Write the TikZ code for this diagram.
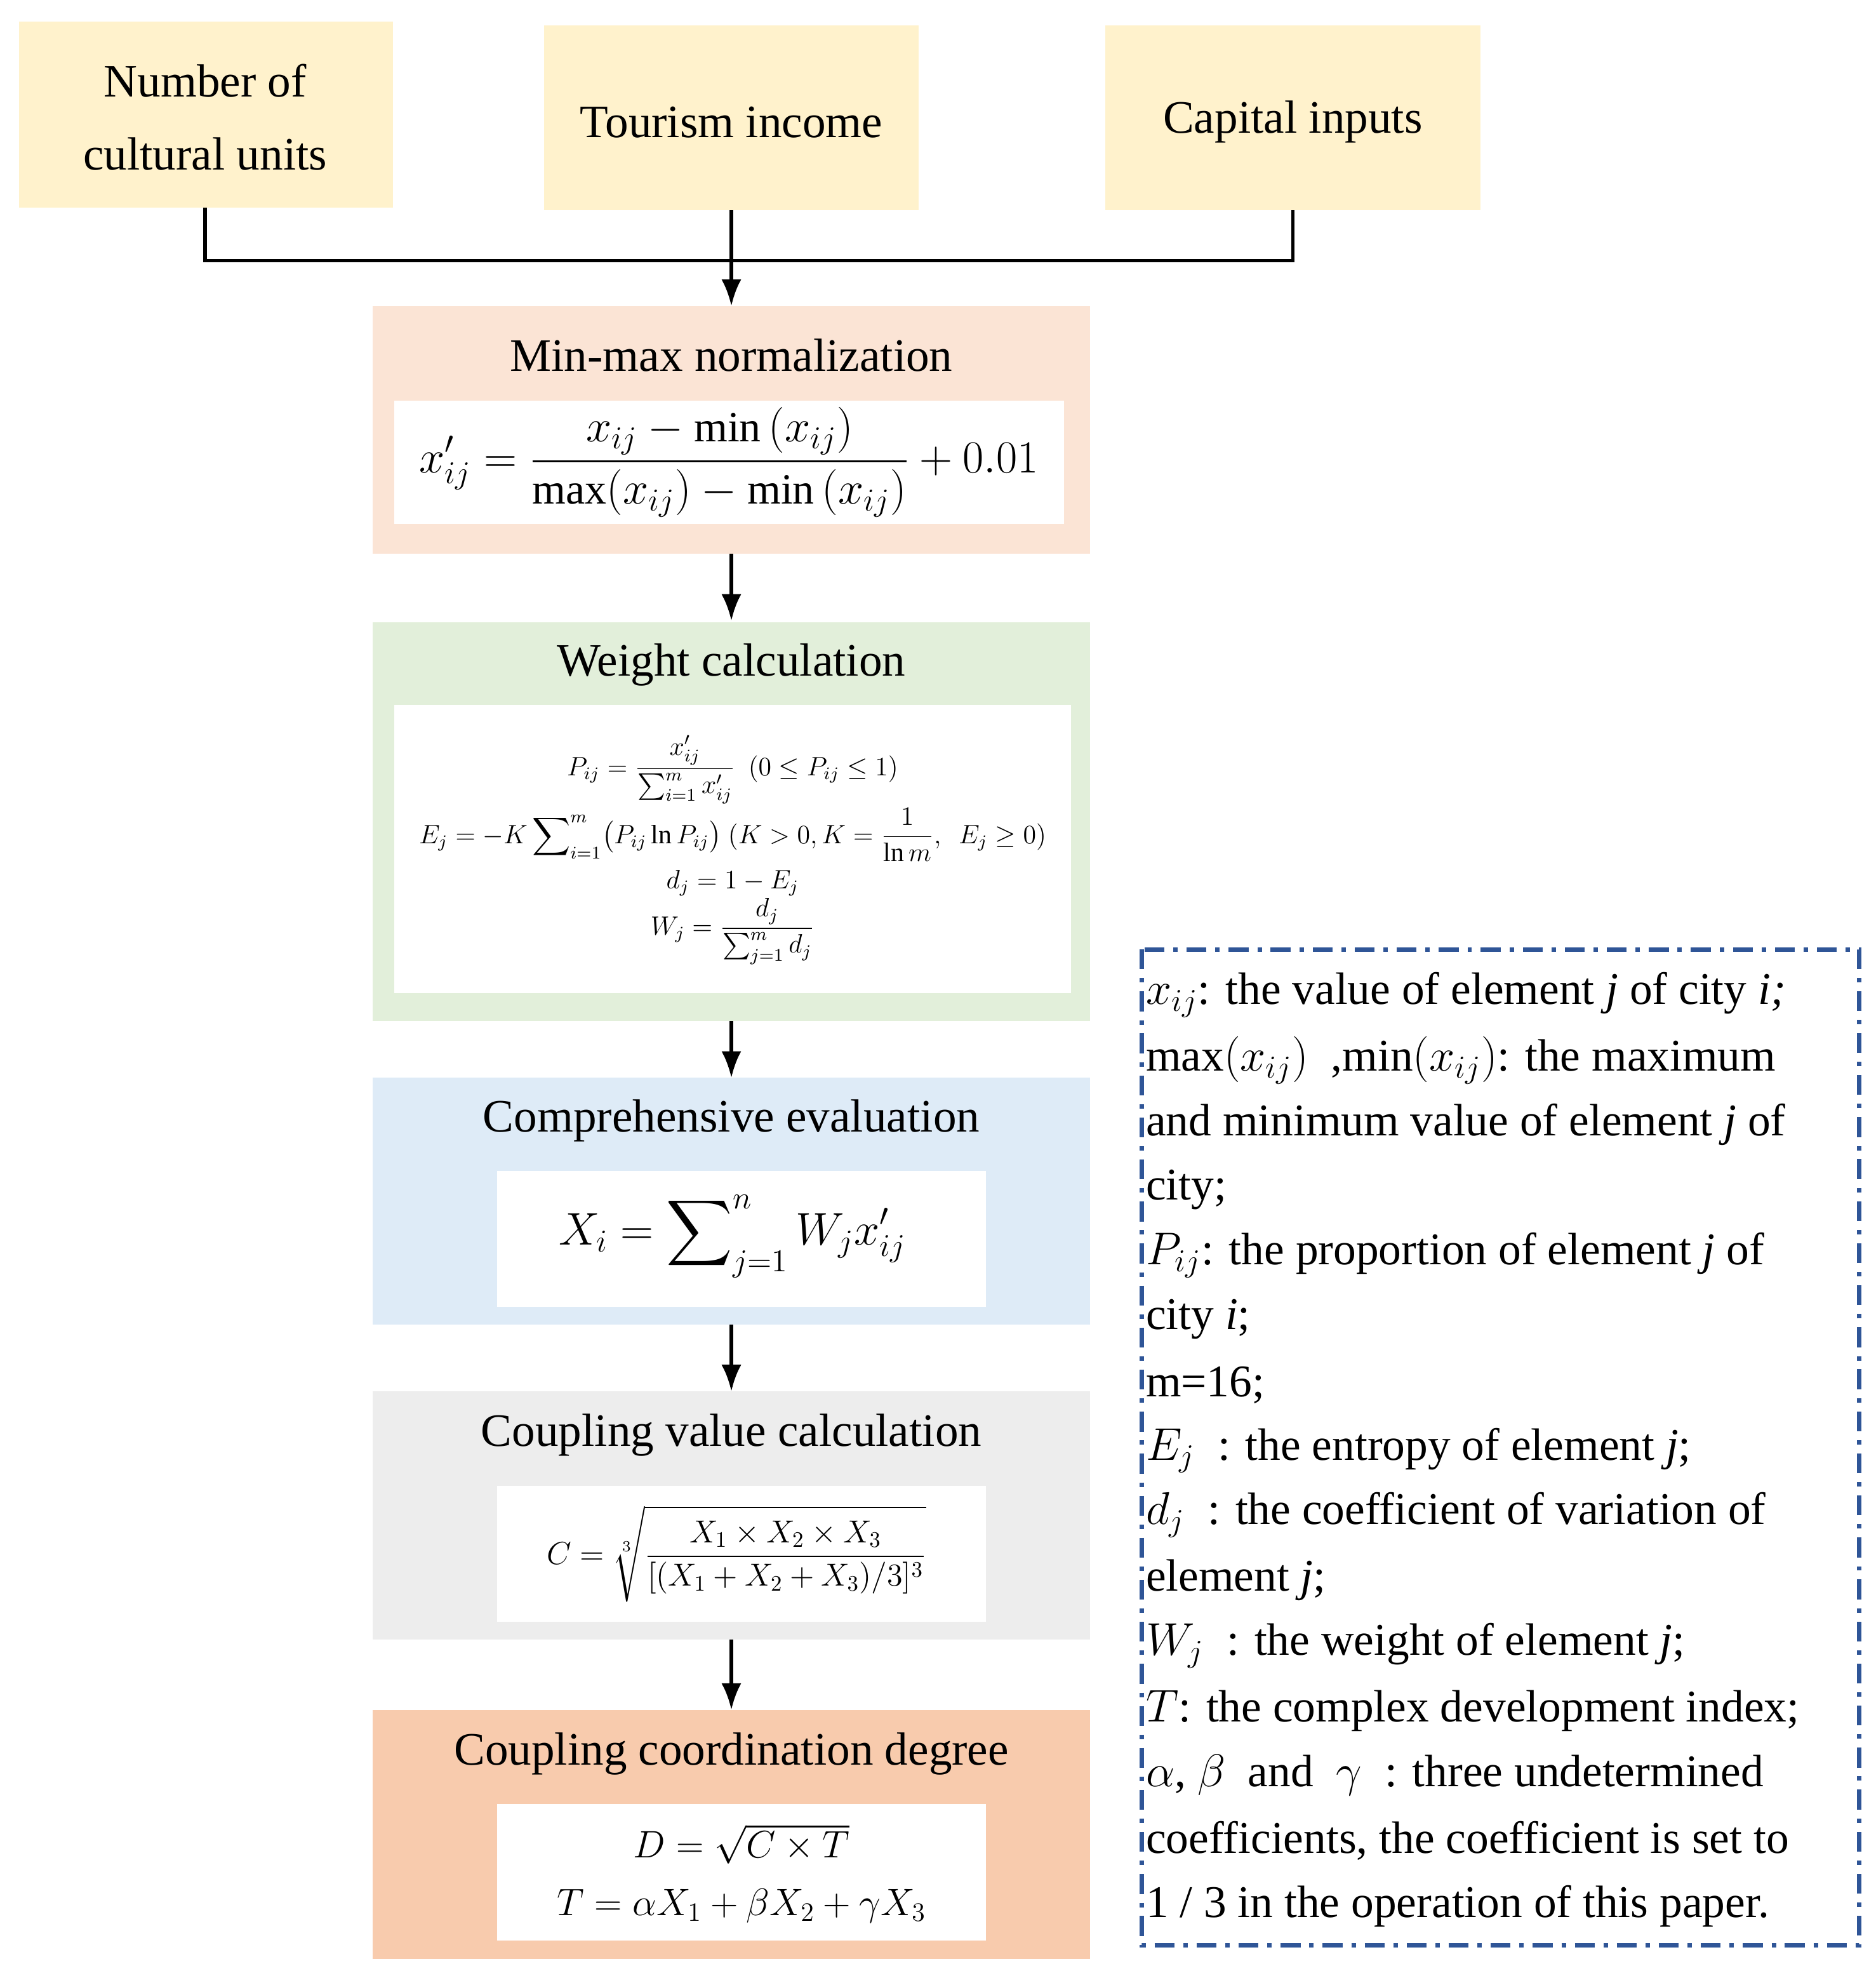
\documentclass[tikz,border=0pt]{standalone}
\usepackage{amsmath}
\usepackage{fontspec}
\setmainfont{Liberation Serif}
\usetikzlibrary{arrows.meta}
\begin{document}
\begin{tikzpicture}[x=0.02cm,y=-0.02cm,
  ttl/.style={font=\fontsize{21}{25}\selectfont},
  lg/.style={anchor=west,inner sep=0,font=\fontsize{20.5}{24}\selectfont},
  arr/.style={-{Latex[length=12pt,width=9pt]},line width=1.6pt},
  ln/.style={line width=1.6pt}]
\useasboundingbox (0,0) rectangle (1490,1571);
\definecolor{cy}{HTML}{FFF2CC}\definecolor{cp}{HTML}{FBE4D5}
\definecolor{cg}{HTML}{E2EFDA}\definecolor{cb}{HTML}{DEEBF7}
\definecolor{cgr}{HTML}{EDEDED}\definecolor{co}{HTML}{F8CBAD}
\definecolor{lb}{HTML}{2F5597}
% top boxes
\fill[cy] (15,17) rectangle (312,165); \node[ttl,align=center] (n1) at (163,93) {Number of\\[8pt]cultural units};
\fill[cy] (432,20) rectangle (730,167); \node[ttl] (n2) at (581,97) {Tourism income};
\fill[cy] (878,20) rectangle (1176,167); \node[ttl] (n3) at (1027,97) {Capital inputs};
\coordinate (b1) at (163,165); \coordinate (b2) at (581,167); \coordinate (b3) at (1027,167);
\coordinate (t1) at (581,243);
\draw[ln] (b1) |- (b3 |- 0,207) -- (b3);
\draw[arr] (b2) -- (t1);
% minmax
\fill[cp] (296,243) rectangle (866,440);
\node[ttl] (m1) at (581,282) {Min-max normalization};
\fill[white] (313,318) rectangle (845,416);
\node[font=\fontsize{19.5}{22}\selectfont] (m2) at (579,367) {$\displaystyle x'_{ij}=\frac{x_{ij}-\min\,(x_{ij})}{\max(x_{ij})-\min\,(x_{ij})}+0.01$};
\coordinate (a1) at (581,440); \coordinate (a2) at (581,493);
\draw[arr] (a1) -- (a2);
% weight
\fill[cg] (296,494) rectangle (866,811);
\node[ttl] (w1) at (581,528) {Weight calculation};
\fill[white] (313,560) rectangle (851,789);
\node[align=center,font=\fontsize{12}{14}\selectfont] (w2) at (582,675) {%
$\displaystyle P_{ij}=\frac{x'_{ij}}{\sum_{i=1}^{m}x'_{ij}}\ \ (0\le P_{ij}\le 1)$\\[1pt]
$\displaystyle E_j=-K\sum\nolimits_{i=1}^{m}\bigl(P_{ij}\ln P_{ij}\bigr)\ (K>0,K=\frac{1}{\ln m},\ \ E_j\ge 0)$\\[3pt]
$d_j=1-E_j$\\
$\displaystyle W_j=\frac{d_j}{\sum_{j=1}^{m}d_j}$};
\coordinate (a3) at (581,811); \coordinate (a4) at (581,856);
\draw[arr] (a3) -- (a4);
% comprehensive
\fill[cb] (296,856) rectangle (866,1052);
\node[ttl] (c1) at (581,890) {Comprehensive evaluation};
\fill[white] (395,930) rectangle (783,1038);
\node[font=\fontsize{22}{26}\selectfont] (c2) at (582,982) {$\displaystyle X_i=\sum\nolimits_{j=1}^{n}W_jx'_{ij}$};
\coordinate (a5) at (581,1052); \coordinate (a6) at (581,1105);
\draw[arr] (a5) -- (a6);
% coupling value
\fill[cgr] (296,1105) rectangle (866,1302);
\node[ttl] (v1) at (581,1140) {Coupling value calculation};
\fill[white] (395,1180) rectangle (783,1288);
\node[font=\fontsize{14.5}{17}\selectfont] (v2) at (585,1234) {$\displaystyle C=\sqrt[3]{\frac{X_1\times X_2\times X_3}{[(X_1+X_2+X_3)/3]^3}}$};
\coordinate (a7) at (581,1302); \coordinate (a8) at (581,1358);
\draw[arr] (a7) -- (a8);
% coordination
\fill[co] (296,1358) rectangle (866,1556);
\node[ttl] (d1) at (581,1393) {Coupling coordination degree};
\fill[white] (395,1433) rectangle (783,1541);
\node[align=center,font=\fontsize{18}{26}\selectfont] (d2) at (589,1488) {$D=\sqrt{C\times T}$\\ $T=\alpha X_1+\beta X_2+\gamma X_3$};
% legend
\draw[lb,line width=2pt,dash pattern=on 9pt off 4pt on 2pt off 4pt] (907,754) rectangle (1477,1545);
\node[lg] (l1) at (910,790) {$x_{ij}$: the value of element \textit{j} of city \textit{i;}};
\node[lg] (l2) at (910,842) {max$(x_{ij})$\ \ ,min$(x_{ij})$: the maximum};
\node[lg] (l3) at (910,893) {and minimum value of element \textit{j} of};
\node[lg] (l4) at (910,945) {city;};
\node[lg] (l5) at (910,997) {$P_{ij}$: the proportion of element \textit{j} of};
\node[lg] (l6) at (910,1048) {city \textit{i};};
\node[lg] (l7) at (910,1100) {m=16;};
\node[lg] (l8) at (910,1152) {$E_j$\ \ : the entropy of element \textit{j};};
\node[lg] (l9) at (910,1203) {$d_j$\ \ : the coefficient of variation of};
\node[lg] (l10) at (910,1255) {element \textit{j};};
\node[lg] (l11) at (910,1307) {$W_j$\ \ : the weight of element \textit{j};};
\node[lg] (l12) at (910,1359) {$T$: the complex development index;};
\node[lg] (l13) at (910,1410) {$\alpha$,\ $\beta$\ \ and\ \ $\gamma$\ \ : three undetermined};
\node[lg] (l14) at (910,1462) {coefficients, the coefficient is set to};
\node[lg] (l15) at (910,1514) {1 / 3 in the operation of this paper.};
\end{tikzpicture}
\end{document}
